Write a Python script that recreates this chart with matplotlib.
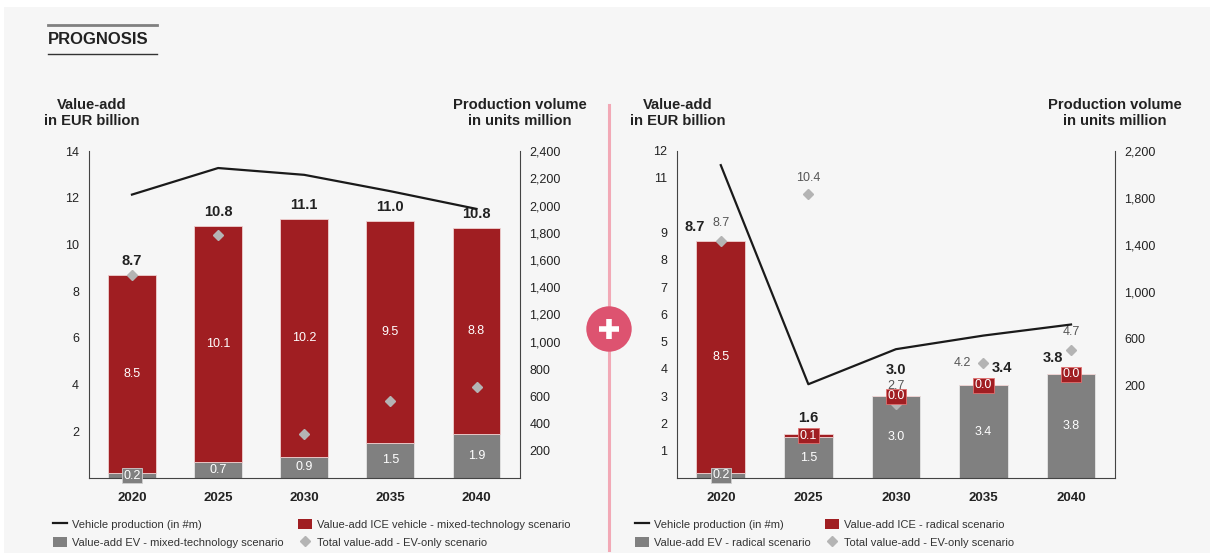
import matplotlib
matplotlib.use('Agg')
import matplotlib.pyplot as plt
from matplotlib.patches import Rectangle, Ellipse
from matplotlib.lines import Line2D
from matplotlib.ticker import FuncFormatter
import numpy as np

plt.rcParams['font.family'] = ['Liberation Sans', 'DejaVu Sans']

# ---------------- data ----------------
years = ['2020', '2025', '2030', '2035', '2040']

# mixed-technology scenario (left)
mixed_ev = [0.2, 0.7, 0.9, 1.5, 1.9]
mixed_ice = [8.5, 10.1, 10.2, 9.5, 8.8]
mixed_total = [8.7, 10.8, 11.1, 11.0, 10.8]
mixed_evonly_marker = [8.7, 10.4, 1.9, 3.3, 3.9]
mixed_production = [2080, 2275, 2225, 2105, 1975]

# radical scenario (right)
radical_ev = [0.2, 1.5, 3.0, 3.4, 3.8]
radical_ice = [8.5, 0.1, 0.0, 0.0, 0.0]
radical_total = [8.7, 1.6, 3.0, 3.4, 3.8]
radical_evonly = [8.7, 10.4, 2.7, 4.2, 4.7]
radical_production = [2077, 213, 511, 627, 721]

left_yticks = [2, 4, 6, 8, 10, 12, 14]
left_y2ticks = [200, 400, 600, 800, 1000, 1200, 1400, 1600, 1800, 2000, 2200, 2400]
right_yticks = [1, 2, 3, 4, 5, 6, 7, 8, 9, 11, 12]
right_y2ticks = [200, 600, 1000, 1400, 1800, 2200]

legend_left = ['Vehicle production (in #m)', 'Value-add EV - mixed-technology scenario',
               'Value-add ICE vehicle - mixed-technology scenario', 'Total value-add - EV-only scenario']
legend_right = ['Vehicle production (in #m)', 'Value-add EV - radical scenario',
                'Value-add ICE - radical scenario', 'Total value-add - EV-only scenario']

# ---------------- style ----------------
RED = '#a01e22'
GREY = '#808080'
DIA = '#b4b4b4'
LINE = '#1a1a1a'
SPINE = '#444444'
TXT = '#222222'

W, H = 1210, 559
fig = plt.figure(figsize=(W / 100, H / 100), dpi=100)
fig.patch.set_facecolor('white')


def fx(x):
    return x / W


def fy(y):
    return 1 - y / H


# background panel
fig.add_artist(Rectangle((fx(4), fy(553)), fx(1210) - fx(4), fy(7) - fy(553),
                         transform=fig.transFigure, facecolor='#f6f6f6',
                         edgecolor='none', zorder=-10))

# PROGNOSIS header
fig.add_artist(Line2D([fx(48), fx(157)], [fy(24.5), fy(24.5)], transform=fig.transFigure,
                      color='#808080', lw=2.0))
fig.add_artist(Line2D([fx(48), fx(157)], [fy(54), fy(54)], transform=fig.transFigure,
                      color='#333333', lw=1.0))
fig.text(fx(48), fy(40), 'PROGNOSIS', fontsize=12, fontweight='bold', color=TXT,
         ha='left', va='center')

# separator and plus sign
fig.add_artist(Line2D([fx(609), fx(609)], [fy(105), fy(550)], transform=fig.transFigure,
                      color='#f2a9b6', lw=2.2, zorder=1))
fig.add_artist(Ellipse((fx(609), fy(329)), 45.4 / W, 45.4 / H, transform=fig.transFigure,
                       facecolor='#dd5370', edgecolor='none', zorder=2))
fig.add_artist(Line2D([fx(599), fx(619)], [fy(329), fy(329)], transform=fig.transFigure,
                      color='white', lw=4, solid_capstyle='butt', zorder=3))
fig.add_artist(Line2D([fx(609), fx(609)], [fy(319), fy(339)], transform=fig.transFigure,
                      color='white', lw=4, solid_capstyle='butt', zorder=3))

BAR_W = 0.555


def panel(x0, x1, y_top, y_bot, ev, ice, totals, evonly, prod, ylim, yticks,
          y2lim, y2ticks, total_off, evonly_labels=None, evonly_off=None):
    ax = fig.add_axes([fx(x0), fy(y_bot), fx(x1) - fx(x0), fy(y_top) - fy(y_bot)])
    ax.set_facecolor('none')
    x = np.arange(len(years))
    ax.bar(x, ev, width=BAR_W, color=GREY, edgecolor='#e6e6e6', linewidth=0.6, zorder=2)
    ax.bar(x, ice, bottom=ev, width=BAR_W, color=RED, edgecolor='#eed0d0', linewidth=0.6,
           zorder=2)
    ax.plot(x, evonly, ls='none', marker='D', ms=4.6, color=DIA, zorder=4)
    ax.set_xlim(-0.5, 4.5)
    ax.set_ylim(*ylim)
    ax.set_yticks(yticks)
    ax.set_xticks(x)
    ax.set_xticklabels(years, fontweight='bold')
    ax.tick_params(axis='y', length=0, pad=7, labelsize=9, colors=TXT)
    ax.tick_params(axis='x', length=0, pad=10, labelsize=9.5, colors=TXT)
    for s in ['top', 'right']:
        ax.spines[s].set_visible(False)
    for s in ['left', 'bottom']:
        ax.spines[s].set_color(SPINE)
        ax.spines[s].set_linewidth(0.8)

    # segment labels
    for i in range(len(years)):
        e, c = ev[i], ice[i]
        kw = dict(ha='center', va='center', color='white', fontsize=9, zorder=6)
        if e < 0.5:
            ax.text(i, e / 2, f'{e:.1f}', bbox=dict(boxstyle='square,pad=0.12', fc=GREY,
                                                    ec='#d0d0d0', lw=0.6), **kw)
        else:
            ax.text(i, e / 2, f'{e:.1f}', **kw)
        if c < 0.5:
            ax.text(i, e + c / 2, f'{c:.1f}', bbox=dict(boxstyle='square,pad=0.12', fc=RED,
                                                        ec='#e07070', lw=0.6), **kw)
        else:
            ax.text(i, e + c / 2, f'{c:.1f}', **kw)
        top = e + c
        dx, dy = total_off[i]
        ax.annotate(f'{totals[i]:.1f}', (i, top), xytext=(dx, dy), textcoords='offset pixels',
                    ha='center', va='center', fontsize=10.5, fontweight='bold', color=TXT,
                    zorder=7)
        if evonly_labels:
            dx, dy = evonly_off[i]
            ax.annotate(f'{evonly[i]:.1f}', (i, evonly[i]), xytext=(dx, dy),
                        textcoords='offset pixels', ha='center', va='center', fontsize=9,
                        color='#555555', zorder=7)

    ax2 = ax.twinx()
    ax2.set_facecolor('none')
    ax2.plot(x, prod, color=LINE, lw=1.6, zorder=3)
    ax2.set_ylim(*y2lim)
    ax2.set_yticks(y2ticks)
    ax2.yaxis.set_major_formatter(FuncFormatter(lambda v, p: f'{int(round(v)):,}'))
    ax2.tick_params(axis='y', length=0, pad=7, labelsize=9, colors=TXT)
    for s in ['top', 'left', 'bottom']:
        ax2.spines[s].set_visible(False)
    ax2.spines['right'].set_color(SPINE)
    ax2.spines['right'].set_linewidth(0.8)
    return ax, ax2


# left panel
panel(88.9, 519.6, 151, 478, mixed_ev, mixed_ice, mixed_total, mixed_evonly_marker,
      mixed_production, (0, 14), left_yticks, (0, 2400), left_y2ticks,
      total_off=[(0, 14)] * 5)

# right panel
panel(677, 1114.8, 150.7, 478, radical_ev, radical_ice, radical_total, radical_evonly,
      radical_production, (0, 12), right_yticks, (-585, 2200), right_y2ticks,
      total_off=[(-26, 14), (0, 16.5), (0, 26), (18, 17.5), (-18, 16)],
      evonly_labels=True,
      evonly_off=[(0, 17.5), (0, 16.5), (0, 18.3), (-21, 0), (0, 17.6)])

# axis headers
for cx, txt in [(92, 'Value-add\nin EUR billion'), (520, 'Production volume\nin units million'),
                (678, 'Value-add\nin EUR billion'), (1114.6, 'Production volume\nin units million')]:
    fig.text(fx(cx), fy(113), txt, ha='center', va='center', fontsize=10.6,
             fontweight='bold', color=TXT, linespacing=1.25)

# legends
line_h = Line2D([], [], color=LINE, lw=1.6)
ev_h = Rectangle((0, 0), 1, 1, facecolor=GREY, edgecolor='none')
ice_h = Rectangle((0, 0), 1, 1, facecolor=RED, edgecolor='none')
dia_h = Line2D([], [], ls='none', marker='D', ms=4.6, color=DIA)

leg_kw = dict(loc='upper left', frameon=False, fontsize=8, handlelength=1.3,
              handleheight=1.1, handletextpad=0.45, labelspacing=0.62, borderpad=0,
              borderaxespad=0, labelcolor='#333333')


def legends(labels, xa, xb):
    fig.legend(handles=[line_h, ev_h], labels=[labels[0], labels[1]],
               bbox_to_anchor=(fx(xa), fy(518.5)), **leg_kw)
    fig.legend(handles=[ice_h, dia_h], labels=[labels[2], labels[3]],
               bbox_to_anchor=(fx(xb), fy(518.5)), **leg_kw)


legends(legend_left, 52.5, 298)
legends(legend_right, 635, 825)

fig.savefig('out.png', dpi=100, facecolor=fig.get_facecolor())
